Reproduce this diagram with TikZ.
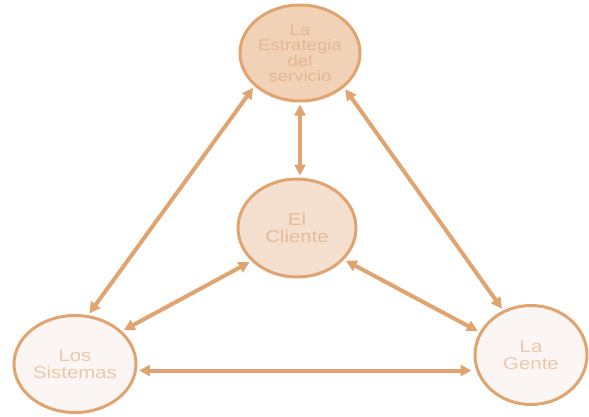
\documentclass[tikz,border=0pt]{standalone}
\usepackage{fontspec}
\setmainfont{Liberation Sans}
\usetikzlibrary{shapes.geometric,arrows.meta}
\definecolor{rim}{RGB}{224,164,112}
\definecolor{fillA}{RGB}{242,210,182}
\definecolor{fillB}{RGB}{245,223,206}
\definecolor{fillC}{RGB}{251,246,243}
\definecolor{txtA}{RGB}{228,182,145}
\definecolor{txtB}{RGB}{228,186,152}
\definecolor{txtC}{RGB}{236,199,170}
\newcommand{\wide}[1]{\scalebox{1.2}[1]{#1}}
\tikzset{
  bubble/.style={ellipse, draw=rim, line width=3pt, inner sep=0pt,
    align=center, font=\fontsize{17}{16.5}\selectfont},
  link/.style={draw=rim, line width=4pt,
    {Triangle[length=11pt,width=11pt]}-{Triangle[length=11pt,width=11pt]},
    shorten <=2pt, shorten >=2pt}
}
\begin{document}
\begin{tikzpicture}[x=1pt,y=-1pt]
\useasboundingbox (0,0) rectangle (589,416);
\node[bubble, fill=fillA, text=txtA, minimum width=120pt, minimum height=96pt,
  font=\fontsize{15.5}{15.5}\selectfont] (top) at (300,53)
  {\wide{La}\\\wide{Estrategia}\\\wide{del}\\\wide{servicio}};
\node[bubble, fill=fillB, text=txtB, minimum width=118pt, minimum height=98pt]
  (mid) at (297,228) {\wide{El}\\\wide{Cliente}};
\node[bubble, fill=fillC, text=txtC, minimum width=122pt, minimum height=97pt]
  (sys) at (75,364) {\wide{Los}\\\wide{Sistemas}};
\node[bubble, fill=fillC, text=txtC, minimum width=112pt, minimum height=99pt]
  (peo) at (531,355) {\wide{La}\\\wide{Gente}};
\draw[link] (top.216) -- (sys.75);
\draw[link] (top.322) -- (peo.122);
\draw[link] (top.south) -- (top.south |- mid.north);
\draw[link] (mid.216) -- (sys.35);
\draw[link] (mid.326) -- (peo.156);
\draw[link] (sys.-6) -- (sys.-6 -| peo.west);
\end{tikzpicture}
\end{document}
